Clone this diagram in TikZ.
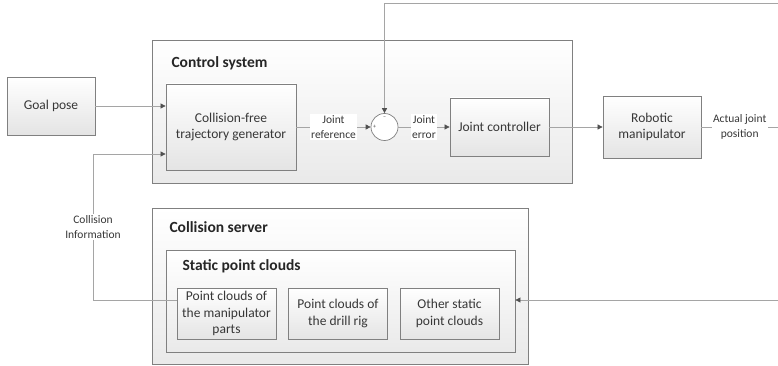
\documentclass[tikz,border=0pt]{standalone}
\usepackage{fontspec}
\setmainfont{Carlito}
\definecolor{BoxBorder}{RGB}{128,128,128}
\definecolor{BoxShade}{RGB}{228,228,228}
\definecolor{EdgeColor}{RGB}{165,165,165}
\definecolor{TipColor}{RGB}{80,80,80}
\definecolor{TextColor}{RGB}{55,55,55}
\usetikzlibrary{
  positioning,
  arrows.meta,
  calc
}
\tikzset{
  % Shaded block
  block/.style={
    draw=BoxBorder,
    line width=0.8pt,
    top color=white,
    bottom color=BoxShade,
    align=center,
    inner sep=0pt,
    text=TextColor,
    font=\fontsize{13.5}{16.5}\selectfont
  },
  % Container around a group of blocks
  group/.style={
    draw=BoxBorder,
    line width=0.8pt,
    top color=white,
    bottom color=BoxShade!80,
    inner sep=0pt
  },
  % Group caption
  caption/.style={
    anchor=west,
    font=\fontsize{15.5}{18}\selectfont\bfseries,
    text=black!85
  },
  % Summing junction
  junction/.style={
    circle,
    draw=BoxBorder,
    line width=0.7pt,
    fill=white,
    minimum size=27pt,
    inner sep=0pt
  },
  sign/.style={
    font=\fontsize{6}{6}\selectfont,
    inner sep=0pt,
    text=black!70
  },
  % Plain connector
  edge/.style={
    draw=EdgeColor,
    line width=0.7pt
  },
  % Directed connector
  dedge/.style={
    draw=EdgeColor,
    line width=0.7pt,
    -{Triangle[length=5pt,width=5pt,color=TipColor]}
  },
  % Signal label
  tag/.style={
    font=\fontsize{11.5}{15}\selectfont,
    fill=white,
    align=center,
    inner sep=1.5pt,
    text=TextColor
  }
}

\begin{document}
\begin{tikzpicture}[x=1pt,y=-1pt]
  \useasboundingbox (0,0) rectangle (778,366);

  % Containers
  \node[group, minimum width=420pt, minimum height=143pt] (ctrl)   at (362,111.5) {};
  \node[group, minimum width=376pt, minimum height=156pt] (server) at (340,286)   {};
  \node[group, minimum width=349pt, minimum height=102pt] (static) at (340.5,301) {};
  \node[caption] at (168,63)  {Control system};
  \node[caption] at (166,227) {Collision server};
  \node[caption] at (179,266) {Static point clouds};

  % Control loop
  \node[block, minimum width=88pt,  minimum height=58pt] (goal)  at (51,106)    {Goal pose};
  \node[block, minimum width=130pt, minimum height=86pt] (cftg)  at (231,127)   {Collision-free\\trajectory generator};
  \node[junction]                                         (sum)   at (384.5,127) {};
  \node[sign] at ([xshift=4pt]sum.west)  {+};
  \node[sign] at ([yshift=-4pt]sum.north) {--};
  \node[block, minimum width=99pt,  minimum height=58pt] (jc)    at (499.5,127) {Joint controller};
  \node[block, minimum width=98pt,  minimum height=62pt] (robot) at (652,127)   {Robotic\\manipulator};

  % Point cloud sources
  \node[block, minimum width=99pt, minimum height=51pt] (parts) at (226.5,313.5) {Point clouds of\\the manipulator\\parts};
  \node[block, minimum width=99pt, minimum height=51pt] (drill) at (338,313.5)   {Point clouds of\\the drill rig};
  \node[block, minimum width=99pt, minimum height=51pt] (other) at (449.5,313.5) {Other static\\point clouds};

  % Free ends at the right border
  \coordinate (fback) at (778,3);
  \coordinate (jpos)  at (778,127);
  \coordinate (cloud) at (778,300);
  \coordinate (cbend) at (93,300);
  \coordinate (cin)   at (166,154);

  \draw[dedge] (goal.east) -- (cftg.west |- goal.east);
  \draw[dedge] (cftg.east) -- node[tag] {Joint\\reference} (sum.west);
  \draw[dedge] (sum.east) -- node[tag] {Joint\\error} (jc.west);
  \draw[dedge] (jc.east) -- (robot.west);
  \draw[edge]  (robot.east) -- node[tag] {Actual joint\\position} (jpos);
  \draw[dedge] (fback) -| (sum.north);
  \draw[dedge] (cloud) -- (static.east |- cloud);
  \draw[dedge] (parts.west |- cbend) -- (cbend) |- node[tag, pos=0.25] {Collision\\Information} (cftg.west |- cin);
\end{tikzpicture}
\end{document}
